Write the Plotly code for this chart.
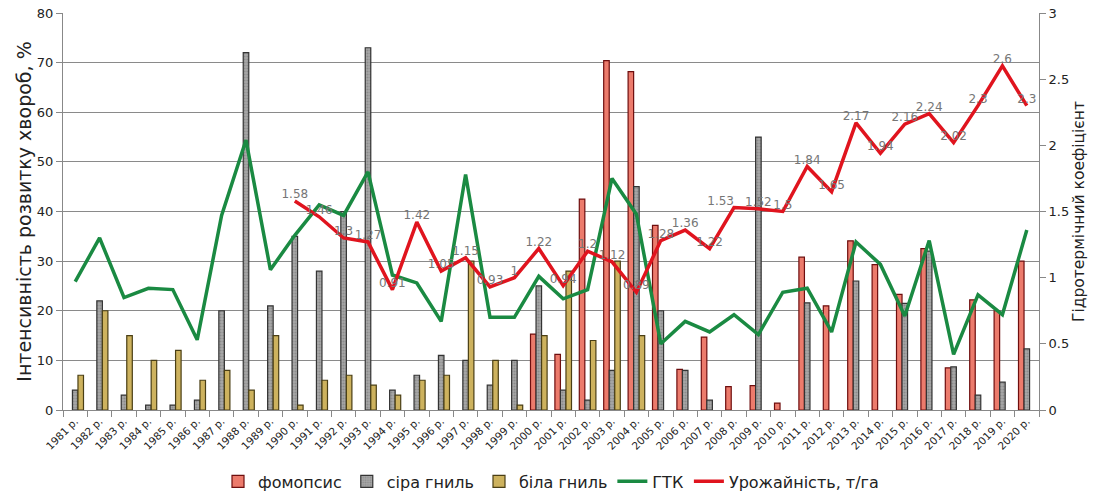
import plotly.graph_objects as go

years = [f"{y} р." for y in range(1981, 2021)]

fomopsys = [0, 0, 0, 0, 0, 0, 0, 0, 0, 0,
            0, 0, 0, 0, 0, 0, 0, 0, 0, 15.3,
            11.2, 42.5, 70.4, 68.2, 37.2, 8.2, 14.7, 4.7, 4.9, 1.4,
            30.8, 21, 34.1, 29.3, 23.3, 32.5, 8.5, 22.2, 20, 30]
sira_gnyl = [4, 22, 3, 1, 1, 2, 20, 72, 21, 35,
             28, 40, 73, 4, 7, 11, 10, 5, 10, 25,
             4, 2, 8, 45, 20, 8, 2, 0, 55, 0,
             21.6, 0, 26, 0, 21.5, 32, 8.7, 3, 5.6, 12.3]
bila_gnyl = [7, 20, 15, 10, 12, 6, 8, 4, 15, 1,
             6, 7, 5, 3, 6, 7, 30, 10, 1, 15,
             28, 14, 30, 15, 0, 0, 0, 0, 0, 0,
             0, 0, 0, 0, 0, 0, 0, 0, 0, 0]
gtk = [0.97, 1.30, 0.85, 0.92, 0.91, 0.53, 1.47, 2.04, 1.06, 1.32,
       1.55, 1.47, 1.80, 1.02, 0.96, 0.67, 1.78, 0.70, 0.70, 1.01,
       0.84, 0.91, 1.75, 1.48, 0.50, 0.67, 0.59, 0.72, 0.57, 0.89,
       0.92, 0.59, 1.27, 1.10, 0.71, 1.28, 0.42, 0.87, 0.72, 1.36]
yield_t = [None] * 9 + [1.58, 1.46, 1.3, 1.27, 0.91, 1.42, 1.05, 1.15, 0.93, 1, 1.22,
                        0.94, 1.2, 1.12, 0.89, 1.28, 1.36, 1.22, 1.53, 1.52, 1.5,
                        1.84, 1.65, 2.17, 1.94, 2.16, 2.24, 2.02, 2.3, 2.6, 2.3]
yield_labels = ["" if v is None else f"{v:g}" for v in yield_t]
label_pos = ["top center"] * len(years)
label_pos[years.index("2008 р.")] = "top left"


def nz(vals):
    return [v if v else None for v in vals]


FONT = "DejaVu Sans"

fig = go.Figure()
fig.add_trace(go.Bar(x=years, y=nz(fomopsys), name="фомопсис",
                     marker=dict(color="#EC7B6C", line=dict(color="#6E0E0E", width=1.2))))
fig.add_trace(go.Bar(x=years, y=nz(sira_gnyl), name="сіра гниль",
                     marker=dict(color="#A8A8A8", line=dict(color="#333333", width=1.2),
                                 pattern=dict(shape=".", fgcolor="#6E6E6E", size=3, solidity=0.4))))
fig.add_trace(go.Bar(x=years, y=nz(bila_gnyl), name="біла гниль",
                     marker=dict(color="#CDB25E", line=dict(color="#4A3F15", width=1.2))))
fig.add_trace(go.Scatter(x=years, y=gtk, name="ГТК", mode="lines", yaxis="y2",
                         line=dict(color="#1A8A42", width=3.5)))
fig.add_trace(go.Scatter(x=years, y=yield_t, name="Урожайність, т/га", mode="lines+text",
                         yaxis="y2", text=yield_labels, textposition=label_pos,
                         textfont=dict(family=FONT, size=12, color="#767676"),
                         line=dict(color="#E0141E", width=3.5)))

fig.update_layout(
    width=1106, height=503,
    margin=dict(l=63, r=67, t=13, b=93, autoexpand=False),
    paper_bgcolor="white", plot_bgcolor="white",
    font=dict(family=FONT, color="#333333"),
    barmode="group", bargap=0.32, bargroupgap=0,
    showlegend=True,
    legend=dict(orientation="h", x=0.5, xanchor="center", y=-0.18, yanchor="middle",
                font=dict(family=FONT, size=16, color="#222222"), itemwidth=30,
                traceorder="normal"),
    xaxis=dict(type="category", range=[-0.5, 39.5], tickangle=-45, automargin=False,
               tickfont=dict(family=FONT, size=10.5, color="#222222"),
               ticks="outside", ticklen=6, tickcolor="#888888", tickson="boundaries",
               showline=True, linecolor="#888888", linewidth=1, showgrid=False),
    yaxis=dict(range=[0, 80], dtick=10, showgrid=True, gridcolor="#8A8A8A", gridwidth=1,
               ticks="outside", ticklen=6, tickcolor="#888888", automargin=False,
               showline=True, linecolor="#888888", ticklabeloverflow="allow",
               tickfont=dict(family=FONT, size=13, color="#222222"),
               title=dict(text="Інтенсивність розвитку хвороб, %",
                          font=dict(family=FONT, size=19, color="#222222"), standoff=0),
               zeroline=False),
    yaxis2=dict(range=[0, 3], dtick=0.5, overlaying="y", side="right", showgrid=False,
                ticks="outside", ticklen=6, tickcolor="#888888", automargin=False,
                showline=True, linecolor="#888888", ticklabeloverflow="allow",
                tickfont=dict(family=FONT, size=13, color="#222222"),
                title=dict(text="Гідротермічний коефіцієнт",
                           font=dict(family=FONT, size=15.5, color="#222222"), standoff=4),
                zeroline=False),
)

fig.write_html("out.html", config={"displayModeBar": False},
               post_script="document.body.style.margin='0px';document.body.style.overflow='hidden';")
